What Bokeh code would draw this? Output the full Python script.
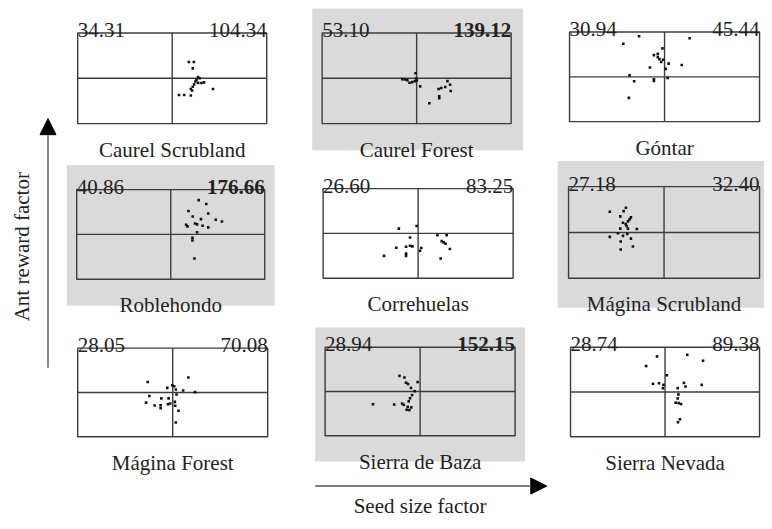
import math
from bokeh.plotting import figure
from bokeh.models import Range1d, Arrow, NormalHead
from bokeh.core.properties import value
from bokeh.embed import file_html
from bokeh.resources import INLINE

# ---------------- data ----------------
sites = ["Caurel Scrubland", "Caurel Forest", "Góntar",
         "Roblehondo", "Correhuelas", "Mágina Scrubland",
         "Mágina Forest", "Sierra de Baza", "Sierra Nevada"]
left_values = ["34.31", "53.10", "30.94", "40.86", "26.60", "27.18", "28.05", "28.94", "28.74"]
right_values = ["104.34", "139.12", "45.44", "176.66", "83.25", "32.40", "70.08", "152.15", "89.38"]
right_bold = [False, True, False, True, False, False, False, True, False]
shaded = [False, True, False, True, False, True, False, True, False]

# point scores (seed size factor, ant reward factor), each axis scaled to [-1, 1]
caurel_scrubland_x = [0.176, 0.229, 0.218, 0.274, 0.29, 0.257, 0.246, 0.274, 0.309, 0.337, 0.232, 0.218, 0.197, 0.431, 0.072, 0.127, 0.197, 0.211]
caurel_scrubland_y = [0.36, 0.36, 0.22, 0.03, 0.0, -0.03, -0.07, -0.10, -0.105, -0.09, -0.135, -0.185, -0.236, -0.236, -0.367, -0.367, -0.38, -0.27]
caurel_forest_x = [-0.012, -0.152, -0.124, -0.099, -0.075, -0.047, -0.019, 0.002, -0.005, 0.037, 0.134, 0.239, 0.239, 0.232, 0.26, 0.302, 0.326, 0.354, 0.361]
caurel_forest_y = [0.113, -0.018, -0.025, -0.04, -0.098, -0.084, -0.062, -0.047, -0.004, -0.178, -0.549, -0.396, -0.44, -0.236, -0.215, -0.193, -0.062, -0.142, -0.28]
gontar_x = [-0.268, -0.434, 0.264, -0.022, -0.112, -0.071, -0.071, -0.054, -0.016, -0.036, 0.043, 0.181, -0.154, 0.012, -0.368, -0.32, -0.112, -0.112, 0.033, -0.375]
gontar_y = [0.905, 0.738, 0.862, 0.636, 0.484, 0.513, 0.44, 0.396, 0.382, 0.331, 0.295, 0.265, 0.207, 0.178, 0.033, -0.098, -0.055, -0.091, -0.025, -0.469]
roblehondo_x = [0.297, 0.378, 0.189, 0.399, 0.234, 0.322, 0.479, 0.545, 0.164, 0.178, 0.259, 0.28, 0.339, 0.399, 0.28, 0.231, 0.231, 0.252]
roblehondo_y = [0.766, 0.678, 0.524, 0.465, 0.399, 0.341, 0.326, 0.289, 0.216, 0.179, 0.245, 0.223, 0.194, 0.158, 0.048, -0.077, -0.136, -0.538]
correhuelas_x = [-0.203, -0.016, -0.085, 0.203, 0.3, 0.248, 0.269, 0.289, 0.334, -0.23, -0.127, -0.085, -0.061, 0.033, 0.019, -0.127, -0.127, -0.359, 0.237]
correhuelas_y = [0.106, 0.165, -0.092, -0.04, -0.04, -0.172, -0.2, -0.231, -0.348, -0.319, -0.297, -0.275, -0.289, -0.326, -0.385, -0.451, -0.502, -0.502, -0.56]
magina_scrubland_x = [-0.399, -0.423, -0.568, -0.458, -0.347, -0.361, -0.378, -0.43, -0.402, -0.392, -0.458, -0.378, -0.285, -0.482, -0.385, -0.568, -0.43, -0.347, -0.454, -0.326, -0.454]
magina_scrubland_y = [0.538, 0.466, 0.451, 0.35, 0.329, 0.285, 0.242, 0.213, 0.184, 0.141, 0.083, 0.083, 0.076, -0.018, -0.032, -0.097, -0.076, -0.134, -0.199, -0.307, -0.372]
magina_forest_x = [-0.263, 0.165, -0.057, -0.005, 0.016, 0.033, 0.11, 0.235, 0.04, -0.245, -0.12, -0.043, -0.28, -0.19, -0.127, -0.127, -0.05, -0.026, 0.023, 0.026, 0.061, 0.033]
magina_forest_y = [0.235, 0.338, 0.103, 0.162, 0.14, 0.066, 0.044, 0.007, -0.044, -0.081, -0.132, -0.132, -0.228, -0.294, -0.287, -0.353, -0.265, -0.25, -0.213, -0.301, -0.412, -0.676]
sierra_baza_x = [-0.217, -0.165, -0.148, -0.127, -0.026, -0.096, -0.057, -0.085, -0.106, -0.12, -0.19, -0.172, -0.273, -0.496, -0.13, -0.141, -0.113, -0.092]
sierra_baza_y = [0.353, 0.316, 0.199, 0.169, 0.213, 0.081, 0.007, -0.081, -0.154, -0.221, -0.272, -0.301, -0.294, -0.287, -0.346, -0.412, -0.419, -0.36]
sierra_nevada_x = [-0.085, 0.235, 0.402, -0.2, 0.019, -0.127, -0.064, -0.016, -0.023, 0.2, 0.217, 0.388, 0.134, 0.141, 0.134, 0.113, 0.144, 0.169, 0.158, 0.137]
sierra_nevada_y = [0.793, 0.83, 0.697, 0.579, 0.373, 0.181, 0.196, 0.159, 0.085, 0.203, 0.122, 0.159, 0.085, -0.055, -0.144, -0.24, -0.247, -0.269, -0.609, -0.675]

points_x = [caurel_scrubland_x, caurel_forest_x, gontar_x, roblehondo_x, correhuelas_x,
            magina_scrubland_x, magina_forest_x, sierra_baza_x, sierra_nevada_x]
points_y = [caurel_scrubland_y, caurel_forest_y, gontar_y, roblehondo_y, correhuelas_y,
            magina_scrubland_y, magina_forest_y, sierra_baza_y, sierra_nevada_y]

x_title = "Seed size factor"
y_title = "Ant reward factor"

# ---------------- layout (reference-picture coordinates) ----------------
W, H = 764, 521          # figure size in px
RW, RH = 772, 529        # layout coordinate extent
BOXES = [(78, 269, 33, 125), (325, 516, 33, 125), (575, 767, 32, 123),
         (77, 267, 192, 283), (326, 518, 191, 282), (574, 767, 189, 282),
         (78, 270, 353, 443), (328, 520, 352, 442), (576, 767, 352, 443)]
SHADES = {1: (315, 528, 8, 152), 3: (67, 277, 167, 310),
          5: (563, 772, 163, 312), 7: (318, 530, 332, 468)}

FONT = value("Liberation Serif")
INK = "#222222"
LINE = "#3c3c3c"
GRAY = "#dadada"

p = figure(width=W, height=H, output_backend="svg", toolbar_location=None,
           x_range=Range1d(0, RW), y_range=Range1d(RH, 0),
           x_axis_location=None, y_axis_location=None, min_border=0,
           outline_line_color=None, background_fill_color="white")
p.grid.visible = False

# shaded backgrounds
for i, (l, r, t, b) in SHADES.items():
    if shaded[i]:
        p.quad(left=[l], right=[r], top=[t], bottom=[b], fill_color=GRAY, line_color=None)

for i, name in enumerate(sites):
    x0, x1, y0, y1 = BOXES[i]
    sx = (x1 - x0) / 2.0
    sy = (y1 - y0) / 2.0
    a = -1 - x0 / sx
    c = -1 - (RH - y1) / sy
    xr, yr = "px%d" % i, "py%d" % i
    p.extra_x_ranges[xr] = Range1d(a, a + RW / sx)
    p.extra_y_ranges[yr] = Range1d(c, c + RH / sy)
    kw = dict(x_range_name=xr, y_range_name=yr)
    # box and crosshair
    p.quad(left=[-1], right=[1], bottom=[-1], top=[1], fill_color=None,
           line_color=LINE, line_width=1.4, **kw)
    p.segment(x0=[-1, 0], y0=[0, -1], x1=[1, 0], y1=[0, 1],
              line_color=LINE, line_width=1.4, **kw)
    # points
    p.scatter(x=points_x[i], y=points_y[i], size=2.6, marker="square",
              fill_color="#111111", line_color=None, **kw)
    # numbers
    p.text(x=[-1], y=[1], text=[left_values[i]], text_font=FONT, text_font_size="21px",
           text_color=INK, text_align="left", text_baseline="alphabetic", y_offset=-3, **kw)
    p.text(x=[1], y=[1], text=[right_values[i]], text_font=FONT, text_font_size="21px",
           text_color=INK, text_align="right", text_baseline="alphabetic", y_offset=-3,
           text_font_style="bold" if right_bold[i] else "normal", **kw)
    # site label
    p.text(x=[0], y=[-1], text=[name], text_font=FONT, text_font_size="21px",
           text_color=INK, text_align="center", text_baseline="alphabetic", y_offset=26, **kw)

# factor arrows
p.add_layout(Arrow(x_start=48, y_start=373, x_end=48, y_end=120, line_color="#555555",
                   line_width=1.4, end=NormalHead(size=16, fill_color="black", line_color="black")))
p.add_layout(Arrow(x_start=318, y_start=493, x_end=552, y_end=493, line_color="#555555",
                   line_width=1.4, end=NormalHead(size=16, fill_color="black", line_color="black")))
p.text(x=[22], y=[250], text=[y_title], angle=math.pi / 2, text_font=FONT, text_font_size="21px",
       text_color=INK, text_align="center", text_baseline="middle")
p.text(x=[424], y=[513], text=[x_title], text_font=FONT, text_font_size="21px",
       text_color=INK, text_align="center", text_baseline="alphabetic")

open("out.html", "w").write(file_html(p, INLINE))
